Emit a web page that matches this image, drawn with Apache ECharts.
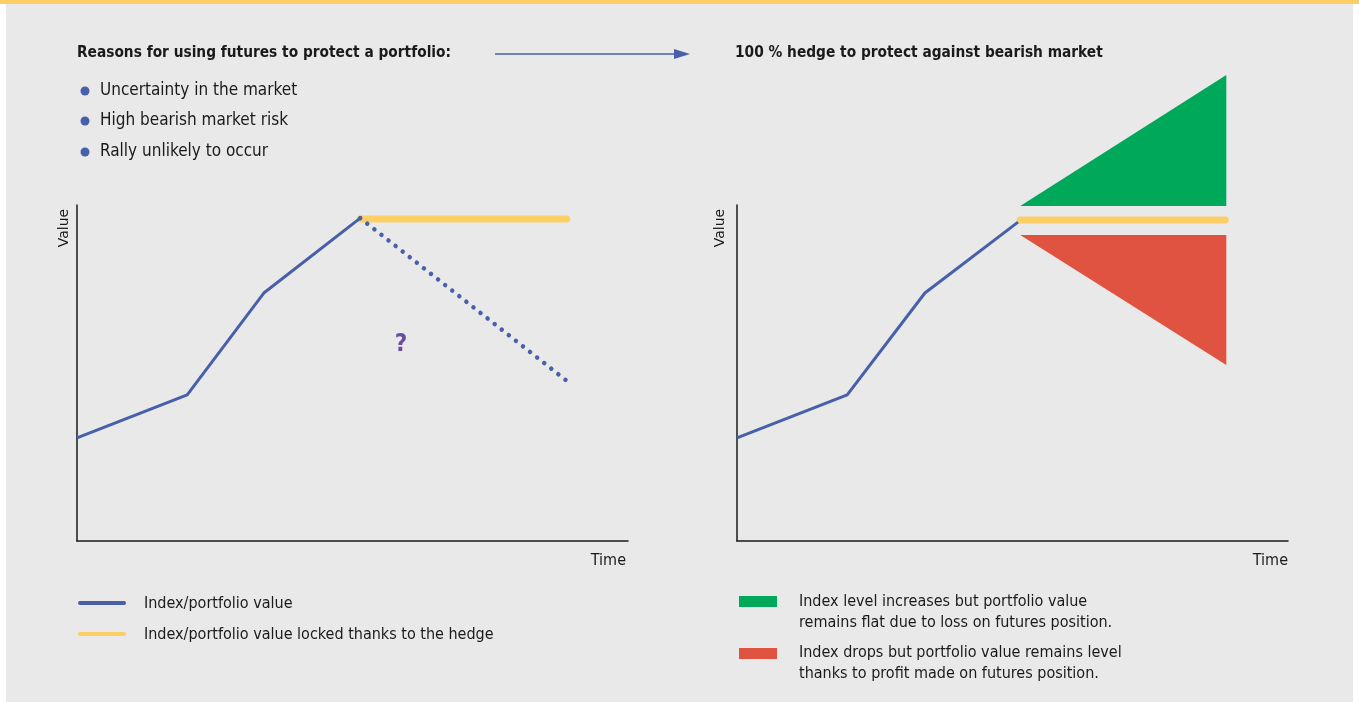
<!DOCTYPE html>
<html>
<head>
<meta charset="utf-8">
<style>
  html, body { margin: 0; padding: 0; background: #fff; }
  #chart { width: 1359px; height: 702px; }
</style>
<script src="https://cdn.jsdelivr.net/npm/echarts@6/dist/echarts.min.js"></script>
</head>
<body>
<div id="chart"></div>
<script>
// data (time and value on a 0-100 scale)
const indexPathLeft = [[0, 30.7], [20, 43.5], [33.9, 73.8], [51.4, 96.1]];
const lockedLeft = [[51.4, 95.8], [88.9, 95.8]];
const dropLeft = [[51.4, 96.1], [88.7, 47.9]];

const indexPathRight = [[0, 30.7], [20, 43.5], [34.1, 73.8], [51, 94.9]];
const lockedRight = [[51.4, 95.5], [88.6, 95.5]];
const gainTriangle = [51.4, 99.7, 88.8, 138.7, 88.8, 99.7];
const lossTriangle = [51.4, 91.1, 88.8, 91.1, 88.8, 52.4];

const leftTitle = "Reasons for using futures to protect a portfolio:";
const rightTitle = "100 % hedge to protect against bearish market";
const reasons = ["Uncertainty in the market", "High bearish market risk", "Rally unlikely to occur"];
const leftLegend = ["Index/portfolio value", "Index/portfolio value locked thanks to the hedge"];
const rightLegend = [
  ["Index level increases but portfolio value", "remains flat due to loss on futures position."],
  ["Index drops but portfolio value remains level", "thanks to profit made on futures position."]
];

const BLUE = "#4760a9";
const YELLOW = "#fbcf66";
const GREEN = "#00a85a";
const RED = "#e05341";
const FONT = "'Liberation Sans Narrow', 'DejaVu Sans Condensed', sans-serif";

const chart = echarts.init(document.getElementById("chart"));

// axis setup shared by both panels
const axisBase = {
  type: "value",
  min: 0,
  max: 100,
  axisLine: { show: true, lineStyle: { color: "#1a1a1a", width: 1.5 } },
  axisTick: { show: false },
  axisLabel: { show: false },
  splitLine: { show: false }
};

function triangle(params, api) {
  const pts = [];
  for (let i = 0; i < 3; i++) {
    pts.push(api.coord([api.value(i * 2), api.value(i * 2 + 1)]));
  }
  return {
    type: "polygon",
    shape: { points: pts },
    style: { fill: api.visual("color") }
  };
}

const txt = (x, y, text, extra) => ({
  type: "text", x: x, y: y,
  style: Object.assign({ text: text, fill: "#1a1a1a", font: "16px " + FONT, verticalAlign: "middle" }, extra || {})
});

const graphics = [
  { type: "rect", shape: { x: 0, y: 0, width: 6, height: 702 }, style: { fill: "#fff" } },
  { type: "rect", shape: { x: 1353, y: 0, width: 6, height: 702 }, style: { fill: "#fff" } },
  { type: "rect", shape: { x: 0, y: 0, width: 1359, height: 4 }, style: { fill: YELLOW } },
  txt(77, 53, leftTitle, { font: "bold 15.3px " + FONT }),
  txt(735, 53, rightTitle, { font: "bold 15.3px " + FONT }),
  { type: "line", shape: { x1: 495, y1: 54, x2: 678, y2: 54 }, style: { stroke: BLUE, lineWidth: 1.3 } },
  { type: "polygon", shape: { points: [[674, 49], [690, 54], [674, 59]] }, style: { fill: BLUE } },
  txt(64, 228, "Value", { align: "center", font: "14px 'DejaVu Sans', sans-serif" }),
  txt(720, 228, "Value", { align: "center", font: "14px 'DejaVu Sans', sans-serif" }),
  txt(626, 561, "Time", { align: "right" }),
  txt(1288, 561, "Time", { align: "right" }),
  txt(401, 345, "?", { align: "center", fill: "#6a4ea0", font: "bold 24px 'DejaVu Sans Condensed', sans-serif" })
];
// rotate the Value labels
graphics[7].rotation = Math.PI / 2;
graphics[8].rotation = Math.PI / 2;

reasons.forEach((r, i) => {
  const y = [91, 121, 152][i];
  graphics.push({ type: "circle", shape: { cx: 85, cy: y, r: 4.5 }, style: { fill: BLUE } });
  graphics.push(txt(100, y, r, { font: "17px " + FONT }));
});

graphics.push({ type: "line", shape: { x1: 80, y1: 603, x2: 124, y2: 603 }, style: { stroke: BLUE, lineWidth: 4, lineCap: "round" } });
graphics.push({ type: "line", shape: { x1: 80, y1: 634, x2: 124, y2: 634 }, style: { stroke: YELLOW, lineWidth: 4, lineCap: "round" } });
graphics.push(txt(144, 604, leftLegend[0]));
graphics.push(txt(144, 635, leftLegend[1]));

graphics.push({ type: "rect", shape: { x: 739, y: 596, width: 38, height: 11 }, style: { fill: GREEN } });
graphics.push({ type: "rect", shape: { x: 739, y: 648, width: 38, height: 11 }, style: { fill: RED } });
graphics.push(txt(799, 602, rightLegend[0][0]));
graphics.push(txt(799, 623, rightLegend[0][1]));
graphics.push(txt(799, 653, rightLegend[1][0]));
graphics.push(txt(799, 674, rightLegend[1][1]));

const option = {
  backgroundColor: "#e9e9e9",
  animation: false,
  grid: [
    { left: 77, top: 205, width: 551, height: 336 },
    { left: 737, top: 205, width: 551, height: 336 }
  ],
  xAxis: [
    Object.assign({ gridIndex: 0 }, axisBase),
    Object.assign({ gridIndex: 1 }, axisBase)
  ],
  yAxis: [
    Object.assign({ gridIndex: 0 }, axisBase),
    Object.assign({ gridIndex: 1 }, axisBase)
  ],
  series: [
    {
      name: "locked left", type: "line", xAxisIndex: 0, yAxisIndex: 0,
      data: lockedLeft, showSymbol: false, z: 1,
      lineStyle: { color: YELLOW, width: 7, cap: "round" }
    },
    {
      name: "Index/portfolio value", type: "line", xAxisIndex: 0, yAxisIndex: 0,
      data: indexPathLeft, showSymbol: false, z: 3,
      lineStyle: { color: BLUE, width: 3 }
    },
    {
      name: "drop", type: "line", xAxisIndex: 0, yAxisIndex: 0,
      data: dropLeft, showSymbol: false, z: 3,
      lineStyle: { color: BLUE, width: 4.5, type: [0.01, 9], cap: "round" }
    },
    {
      name: "gain", type: "custom", xAxisIndex: 1, yAxisIndex: 1,
      data: [gainTriangle], clip: false, itemStyle: { color: GREEN },
      encode: { x: [0, 2, 4], y: [1, 3, 5] }, renderItem: triangle
    },
    {
      name: "loss", type: "custom", xAxisIndex: 1, yAxisIndex: 1,
      data: [lossTriangle], clip: false, itemStyle: { color: RED },
      encode: { x: [0, 2, 4], y: [1, 3, 5] }, renderItem: triangle
    },
    {
      name: "locked right", type: "line", xAxisIndex: 1, yAxisIndex: 1,
      data: lockedRight, showSymbol: false, z: 1,
      lineStyle: { color: YELLOW, width: 7, cap: "round" }
    },
    {
      name: "Index/portfolio value right", type: "line", xAxisIndex: 1, yAxisIndex: 1,
      data: indexPathRight, showSymbol: false, z: 3,
      lineStyle: { color: BLUE, width: 3 }
    }
  ],
  graphic: graphics
};

chart.setOption(option);
</script>
</body>
</html>
